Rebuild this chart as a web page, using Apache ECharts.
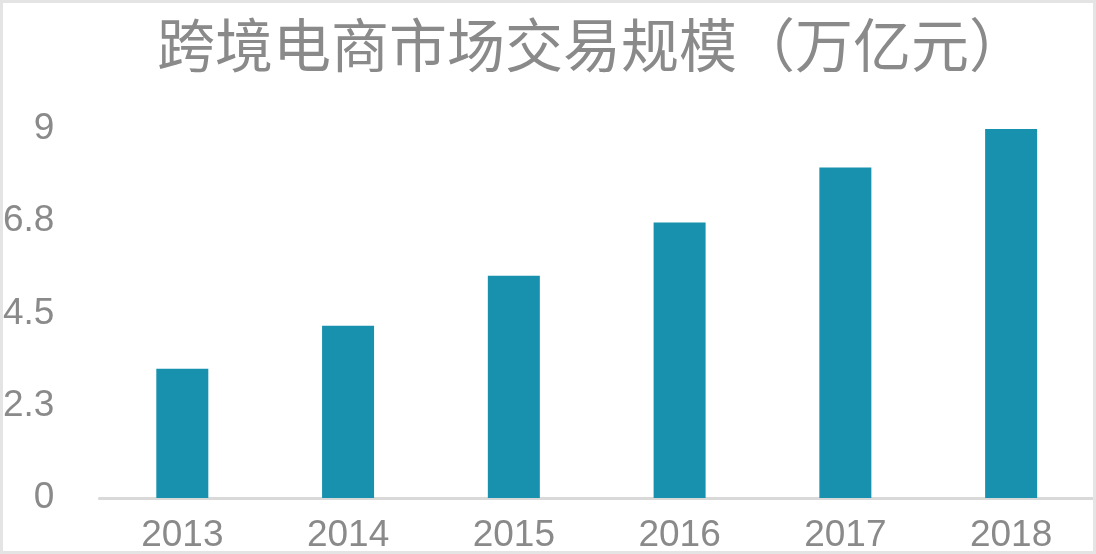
<!DOCTYPE html>
<html>
<head>
<meta charset="utf-8">
<script src="https://cdn.jsdelivr.net/npm/echarts@6/dist/echarts.min.js"></script>
<style>
    html, body {margin: 0; padding: 0; background: #fff;}
    #mychart {width: 1096px; height: 554px;}
    #frame {position: absolute; left: 0; top: 0; width: 1096px; height: 554px;
        box-sizing: border-box; border: 3px solid #e4e4e4; pointer-events: none;}
</style>
</head>
<body>
<div id="mychart"></div>
<div id="frame"></div>
<script>
var years = ['2013', '2014', '2015', '2016', '2017', '2018'];
var values = [3.15, 4.2, 5.42, 6.72, 8.06, 9.0];
var titleText = '跨境电商市场交易规模（万亿元）';

var grey = '#8a8a8a';

var option = {
    animation: false,
    title: {
        text: titleText,
        left: 152,
        top: 11,
        textStyle: {
            fontFamily: 'Noto Sans CJK SC',
            fontSize: 58,
            fontWeight: 'normal',
            color: grey
        }
    },
    grid: {
        left: 99,
        right: 2,
        top: 129,
        bottom: 56
    },
    xAxis: {
        type: 'category',
        data: years,
        axisLine: {lineStyle: {color: '#d9d9d9', width: 3}},
        axisTick: {show: false},
        axisLabel: {
            margin: 19,
            color: grey,
            fontSize: 37,
            fontFamily: 'Liberation Sans'
        }
    },
    yAxis: {
        type: 'value',
        min: 0,
        max: 9,
        interval: 2.25,
        splitLine: {show: false},
        axisLine: {show: false},
        axisTick: {show: false},
        axisLabel: {
            margin: 45,
            color: grey,
            fontSize: 37,
            fontFamily: 'Liberation Sans',
            formatter: function (v) {
                return String(Math.round(v * 10) / 10);
            }
        }
    },
    series: [
        {
            type: 'bar',
            data: values,
            barWidth: 52,
            itemStyle: {color: '#1791ae'}
        }
    ]
};

var mychart = echarts.init(document.getElementById('mychart'));
mychart.setOption(option);
</script>
</body>
</html>
